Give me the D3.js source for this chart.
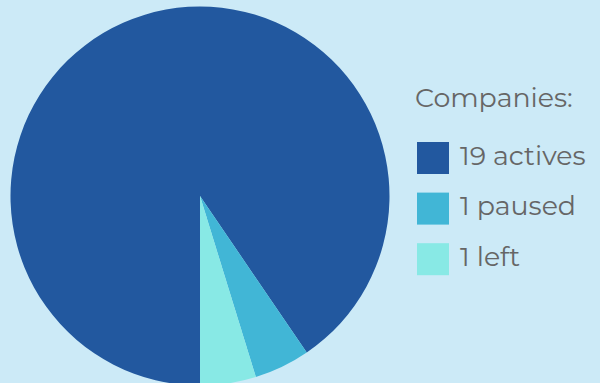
<!DOCTYPE html>
<html>
<head>
<meta charset="utf-8">
<script src="https://cdn.jsdelivr.net/npm/d3@7"></script>
<style>
  html, body { margin: 0; padding: 0; background: #cceaf7; }
  svg { display: block; }
</style>
</head>
<body>
<svg id="chart" width="600" height="383"></svg>
<script>
// Company status breakdown
const categories = ["actives", "paused", "left"];
const counts = [19, 1, 1];
const colors = ["#22589f", "#41b6d6", "#88e9e5"];
const legendTitle = "Companies:";

const W = 600, H = 383;
const svg = d3.select("#chart");

svg.append("rect").attr("width", W).attr("height", H).attr("fill", "#cceaf7");

const data = categories.map((c, i) => ({ name: c, value: counts[i], color: colors[i] }));

const pie = d3.pie()
  .value(d => d.value)
  .sort(null)
  .startAngle(Math.PI)
  .endAngle(3 * Math.PI);

const arc = d3.arc().innerRadius(0).outerRadius(189.5);

const g = svg.append("g").attr("transform", "translate(200,196)");
g.selectAll("path")
  .data(pie(data))
  .join("path")
  .attr("d", arc)
  .attr("fill", d => d.data.color);

// Legend
const legend = svg.append("g").attr("font-family", "Montserrat, 'Open Sans', sans-serif").attr("fill", "#666");
legend.append("text")
  .attr("x", 415).attr("y", 107)
  .attr("font-size", 26.8)
  .text(legendTitle);

const items = legend.selectAll("g.item")
  .data(data)
  .join("g")
  .attr("class", "item")
  .attr("transform", (d, i) => `translate(417,${142 + i * 50.6})`);

items.append("rect")
  .attr("width", 32).attr("height", 32)
  .attr("fill", d => d.color);

items.append("text")
  .attr("x", 43).attr("y", 22.5)
  .attr("font-size", 26.8)
  .text(d => `${d.value} ${d.name}`);
</script>
</body>
</html>
